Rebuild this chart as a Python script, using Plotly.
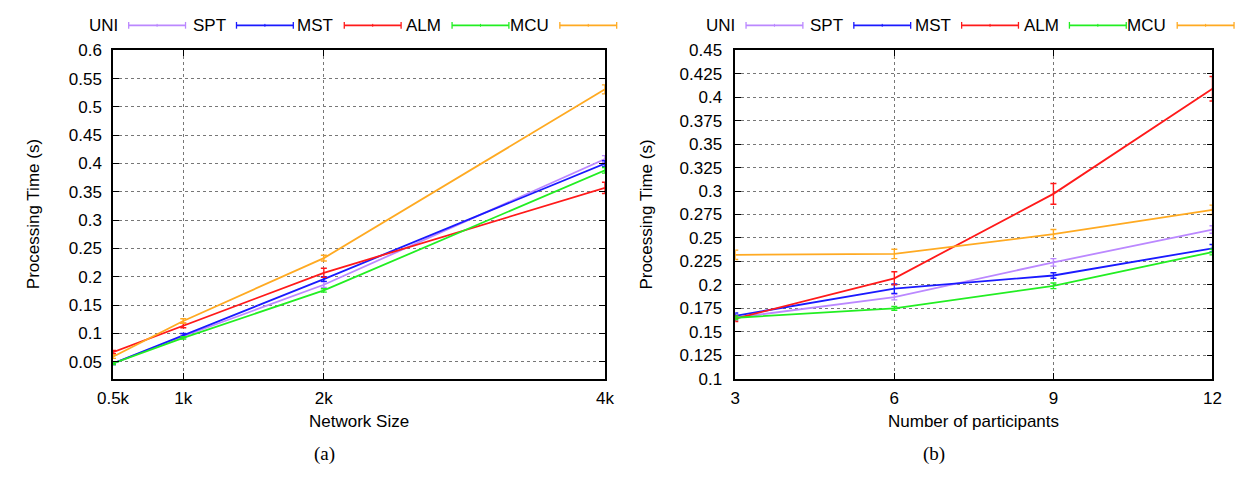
import plotly.graph_objects as go

# ---- data -------------------------------------------------------------
series_names = ["UNI", "SPT", "MST", "ALM", "MCU"]
series_colors = ["#bb88ff", "#1a1aff", "#ff1a1a", "#22ee22", "#ffaa22"]

# (a) processing time vs network size
net_size = [0.5, 1, 2, 4]
net_size_labels = ["0.5k", "1k", "2k", "4k"]
a_uni = [0.047, 0.095, 0.186, 0.408]
a_spt = [0.047, 0.097, 0.196, 0.400]
a_mst = [0.067, 0.114, 0.207, 0.357]
a_alm = [0.047, 0.092, 0.176, 0.388]
a_mcu = [0.059, 0.122, 0.233, 0.531]
a_uni_err = [0.002, 0.003, 0.005, 0.006]
a_spt_err = [0.002, 0.003, 0.004, 0.005]
a_mst_err = [0.003, 0.004, 0.008, 0.010]
a_alm_err = [0.002, 0.002, 0.003, 0.005]
a_mcu_err = [0.003, 0.004, 0.005, 0.008]
a_yticks = [0.05, 0.1, 0.15, 0.2, 0.25, 0.3, 0.35, 0.4, 0.45, 0.5, 0.55, 0.6]
a_ylabels = ["0.05", "0.1", "0.15", "0.2", "0.25", "0.3", "0.35", "0.4",
             "0.45", "0.5", "0.55", "0.6"]

# (b) processing time vs number of participants
participants = [3, 6, 9, 12]
b_uni = [0.165, 0.187, 0.224, 0.259]
b_spt = [0.167, 0.196, 0.210, 0.239]
b_mst = [0.164, 0.207, 0.297, 0.409]
b_alm = [0.165, 0.175, 0.199, 0.235]
b_mcu = [0.232, 0.233, 0.254, 0.280]
b_uni_err = [0.003, 0.003, 0.004, 0.004]
b_spt_err = [0.003, 0.005, 0.003, 0.004]
b_mst_err = [0.003, 0.007, 0.011, 0.013]
b_alm_err = [0.002, 0.002, 0.003, 0.003]
b_mcu_err = [0.005, 0.005, 0.005, 0.005]
b_yticks = [0.1, 0.125, 0.15, 0.175, 0.2, 0.225, 0.25, 0.275, 0.3, 0.325,
            0.35, 0.375, 0.4, 0.425, 0.45]
b_ylabels = ["0.1", "0.125", "0.15", "0.175", "0.2", "0.225", "0.25", "0.275",
             "0.3", "0.325", "0.35", "0.375", "0.4", "0.425", "0.45"]

W, H = 1245, 479
FONT = "Liberation Sans, Arial, sans-serif"
SERIF = "Liberation Serif, DejaVu Serif, serif"
FS = 17


def px(x):
    return x / W


def py(y):
    return 1 - y / H


fig = go.Figure()

panel_a = [a_uni, a_spt, a_mst, a_alm, a_mcu]
panel_a_err = [a_uni_err, a_spt_err, a_mst_err, a_alm_err, a_mcu_err]
panel_b = [b_uni, b_spt, b_mst, b_alm, b_mcu]
panel_b_err = [b_uni_err, b_spt_err, b_mst_err, b_alm_err, b_mcu_err]

for name, color, ys, es in zip(series_names, series_colors, panel_a, panel_a_err):
    fig.add_trace(go.Scatter(
        x=net_size, y=ys, name=name, mode="lines", xaxis="x", yaxis="y",
        line=dict(color=color, width=1.8), showlegend=False,
        error_y=dict(type="data", array=es, color=color, thickness=1.4, width=3),
    ))

for name, color, ys, es in zip(series_names, series_colors, panel_b, panel_b_err):
    fig.add_trace(go.Scatter(
        x=participants, y=ys, name=name, mode="lines", xaxis="x2", yaxis="y2",
        line=dict(color=color, width=1.8), showlegend=False,
        error_y=dict(type="data", array=es, color=color, thickness=1.4, width=3),
    ))

axis_common = dict(
    showline=True, linecolor="black", linewidth=1.5, mirror="ticks",
    ticks="inside", ticklen=6, tickcolor="black", tickwidth=1,
    showgrid=True, gridcolor="#777777", griddash="dot", gridwidth=0.8,
    zeroline=False, tickfont=dict(family=FONT, size=FS, color="black"),
)

# plot areas in pixels
A_L, A_R = 99, 601
B_L, B_R = 734, 1221
TOP, BOT = 43, 385

fig.update_layout(
    width=W, height=H, margin=dict(l=0, r=0, t=0, b=0),
    paper_bgcolor="white", plot_bgcolor="white", showlegend=False,
    xaxis=dict(axis_common, domain=[px(A_L), px(A_R)], range=[0.5, 4],
               tickvals=net_size, ticktext=net_size_labels, anchor="y",
               ticklabelstandoff=3),
    yaxis=dict(axis_common, domain=[py(BOT), py(TOP)], range=[0.02, 0.6],
               tickvals=a_yticks, ticktext=a_ylabels, anchor="x",
               ticklabelstandoff=6),
    xaxis2=dict(axis_common, domain=[px(B_L), px(B_R)], range=[3, 12],
                tickvals=participants, ticktext=[str(v) for v in participants],
                anchor="y2", ticklabelstandoff=3),
    yaxis2=dict(axis_common, domain=[py(BOT), py(TOP)], range=[0.1, 0.45],
                tickvals=b_yticks, ticktext=b_ylabels, anchor="x2",
                ticklabelstandoff=8),
)

annotations = []
shapes = []

# axis titles and captions
for xc, title in [((A_L + A_R) / 2, "Network Size"), ((B_L + B_R) / 2, "Number of participants")]:
    annotations.append(dict(x=px(xc), y=py(430), xref="paper", yref="paper",
                            text=title, showarrow=False, xanchor="center", yanchor="middle",
                            font=dict(family=FONT, size=FS, color="black")))
for xc in [18, 643]:
    annotations.append(dict(x=px(xc), y=py((TOP + BOT) / 2), xref="paper", yref="paper",
                            text="Processing Time (s)", showarrow=False, textangle=-90,
                            xanchor="center", yanchor="middle",
                            font=dict(family=FONT, size=FS, color="black")))
for xc, cap in [(315, "(a)"), (937, "(b)")]:
    annotations.append(dict(x=px(xc), y=py(463), xref="paper", yref="paper",
                            text=cap, showarrow=False, xanchor="center", yanchor="middle",
                            font=dict(family=SERIF, size=19, color="black")))

# key: label followed by an error-line sample
KEY_Y = 17
for start in [115, 745]:
    for i, (name, color) in enumerate(zip(series_names, series_colors)):
        s0 = start + 110 * i
        s1 = s0 + 58
        annotations.append(dict(x=px(s0 - 9), y=py(KEY_Y), xref="paper", yref="paper",
                                text=name, showarrow=False, xanchor="right", yanchor="middle",
                                font=dict(family=FONT, size=FS, color="black")))
        shapes.append(dict(type="line", xref="paper", yref="paper",
                           x0=px(s0), x1=px(s1), y0=py(KEY_Y), y1=py(KEY_Y),
                           line=dict(color=color, width=1.6)))
        for xe in (s0, s1):
            shapes.append(dict(type="line", xref="paper", yref="paper",
                               x0=px(xe), x1=px(xe), y0=py(KEY_Y - 3.5), y1=py(KEY_Y + 3.5),
                               line=dict(color=color, width=1.3)))
        xm = (s0 + s1) / 2
        shapes.append(dict(type="line", xref="paper", yref="paper",
                           x0=px(xm), x1=px(xm), y0=py(KEY_Y - 1.5), y1=py(KEY_Y + 1.5),
                           line=dict(color=color, width=1)))

fig.update_layout(annotations=annotations, shapes=shapes)

fig.write_html("out.html")
